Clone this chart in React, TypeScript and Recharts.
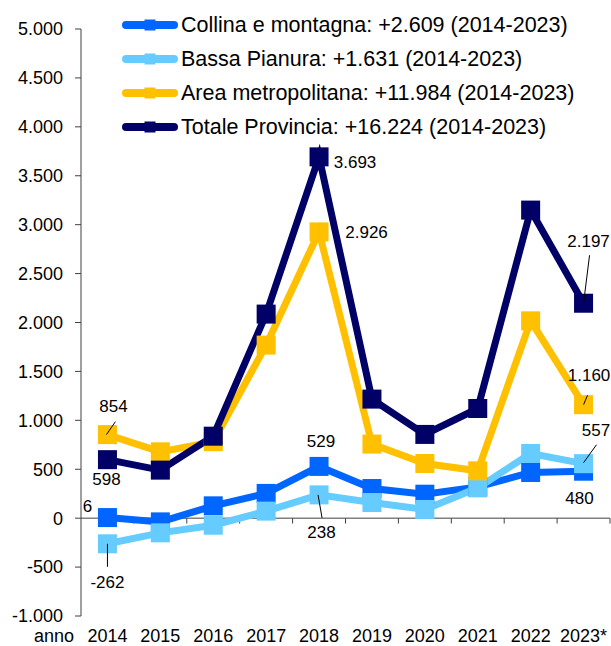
import React from 'react';
import { LineChart, Line, XAxis, YAxis, ReferenceLine, LabelList, Legend } from 'recharts';

const YEARS = ['2014', '2015', '2016', '2017', '2018', '2019', '2020', '2021', '2022', '2023*'];
const COLLINA = [6, -38, 126, 253, 529, 303, 245, 320, 467, 480];
const BASSA = [-262, -150, -72, 72, 238, 160, 89, 310, 661, 557];
const AREA = [854, 678, 782, 1769, 2926, 757, 559, 484, 2017, 1160];
const TOTALE = [598, 491, 838, 2086, 3693, 1217, 856, 1121, 3149, 2197];
const Y_TICKS = [-1000, -500, 0, 500, 1000, 1500, 2000, 2500, 3000, 3500, 4000, 4500, 5000];

const SERIES = [
  { key: 'collina', name: 'Collina e montagna', total: '+2.609 (2014-2023)', color: '#0066FF' },
  { key: 'bassa', name: 'Bassa Pianura', total: '+1.631 (2014-2023)', color: '#66CCFF' },
  { key: 'area', name: 'Area metropolitana', total: '+11.984 (2014-2023)', color: '#FFC000' },
  { key: 'totale', name: 'Totale Provincia', total: '+16.224 (2014-2023)', color: '#000066' },
];

const data = YEARS.map((year, i) => ({
  x: i,
  year,
  collina: COLLINA[i],
  bassa: BASSA[i],
  area: AREA[i],
  totale: TOTALE[i],
}));

const boundaries = YEARS.map((_, i) => i + 0.5);

// which points get a value label, offset from the marker centre, optional leader line
type LabelSpot = { dx: number; dy: number; leader?: [number, number, number, number] };
const LABEL_SPOTS: Record<string, Record<number, LabelSpot>> = {
  collina: { 0: { dx: -20, dy: -11 }, 4: { dx: 2, dy: -25 }, 9: { dx: -4, dy: 27 } },
  bassa: {
    0: { dx: 0, dy: 39, leader: [0, 0, 0, 23] },
    4: { dx: 2.5, dy: 38, leader: [-1, 0, 3, 23] },
    9: { dx: 12.5, dy: -33, leader: [0, -1, 13, -19] },
  },
  area: {
    0: { dx: 6, dy: -28, leader: [-1, 0, 8, -13] },
    4: { dx: 47.5, dy: 1 },
    9: { dx: 5.5, dy: -29.5, leader: [0, 0, 4, -9.5] },
  },
  totale: {
    0: { dx: -1, dy: 20 },
    4: { dx: 36, dy: 6 },
    9: { dx: 5, dy: -61.5, leader: [0, 0, 6, -48] },
  },
};

const fmt = (v: number) => {
  const s = String(Math.abs(v)).replace(/\B(?=(\d{3})+(?!\d))/g, '.');
  return v < 0 ? '-' + s : s;
};

const FONT = '"Liberation Sans", Arial, sans-serif';

const SquareDot = (color: string) => (props: any) => {
  const { cx, cy, index } = props;
  if (cx == null || cy == null) return <g key={index} />;
  return <rect key={index} x={cx - 9.5} y={cy - 9.5} width={19} height={19} fill={color} />;
};

const makeLabel = (key: string) => (props: any) => {
  const { x, y, value, index } = props;
  const spot = LABEL_SPOTS[key][index];
  if (!spot) return null;
  return (
    <g>
      {spot.leader && (
        <line
          x1={x + spot.leader[0]}
          y1={y + spot.leader[1]}
          x2={x + spot.leader[2]}
          y2={y + spot.leader[3]}
          stroke="#000"
          strokeWidth={1}
        />
      )}
      <text
        x={x + spot.dx}
        y={y + spot.dy}
        textAnchor="middle"
        dominantBaseline="central"
        fontSize={17}
        fontFamily={FONT}
        fill="#000"
      >
        {fmt(value)}
      </text>
    </g>
  );
};

const LegendBox = () => (
  <div style={{ fontFamily: FONT, fontSize: 21.5, color: '#000' }}>
    {SERIES.map((s) => (
      <div key={s.key} style={{ display: 'flex', alignItems: 'center', height: 34 }}>
        <svg width={56} height={34} style={{ display: 'block' }}>
          <line x1={4} y1={17} x2={52} y2={17} stroke={s.color} strokeWidth={8} strokeLinecap="round" />
          <rect x={22.5} y={11.5} width={11} height={11} fill={s.color} />
        </svg>
        <span style={{ marginLeft: 3, whiteSpace: 'nowrap', lineHeight: '34px' }}>
          {s.name}: {s.total}
        </span>
      </div>
    ))}
  </div>
);

// year labels sit at the bottom of the plot, not on the zero line
const XTick = (props: any) => {
  const { x, payload } = props;
  return (
    <text x={x} y={629} dy="0.71em" textAnchor="middle" fontSize={18} fontFamily={FONT} fill="#000">
      {YEARS[payload.value]}
    </text>
  );
};

export default function App() {
  return (
    <div style={{ position: 'absolute', left: 0, top: 0, background: '#fff' }}>
      <LineChart
        width={611}
        height={646}
        data={data}
        margin={{ top: 29, right: 1, bottom: 0, left: 0 }}
        style={{ fontFamily: FONT }}
      >
        <XAxis
          dataKey="x"
          type="number"
          domain={[-0.5, 9.5]}
          ticks={YEARS.map((_, i) => i)}
          height={30}
          axisLine={false}
          tickLine={false}
          tick={<XTick />}
          interval={0}
          label={{
            content: (p: any) => (
              <text
                x={p.viewBox.x - 7}
                y={629}
                dy="0.71em"
                textAnchor="end"
                fontSize={18}
                fontFamily={FONT}
                fill="#000"
              >
                anno
              </text>
            ),
          }}
        />
        <YAxis
          width={81}
          domain={[-1000, 5000]}
          ticks={Y_TICKS}
          interval={0}
          tickFormatter={fmt}
          tick={{ fontSize: 18, fill: '#000', fontFamily: FONT }}
          tickSize={6}
          tickMargin={12}
          axisLine={{ stroke: '#404040' }}
          tickLine={{ stroke: '#404040' }}
        />
        <ReferenceLine y={0} stroke="#404040" strokeWidth={1} />
        {boundaries.map((b) => (
          <ReferenceLine
            key={b}
            segment={[
              { x: b, y: 0 },
              { x: b, y: -55 },
            ]}
            stroke="#404040"
            strokeWidth={1}
          />
        ))}
        <Legend
          layout="vertical"
          align="center"
          verticalAlign="middle"
          content={<LegendBox />}
          wrapperStyle={{ top: 8, left: 122, width: 'auto' }}
        />
        {SERIES.map((s) => (
          <Line
            key={s.key}
            dataKey={s.key}
            name={s.name}
            stroke={s.color}
            strokeWidth={7}
            dot={SquareDot(s.color)}
            activeDot={false}
            isAnimationActive={false}
          >
            <LabelList dataKey={s.key} content={makeLabel(s.key)} />
          </Line>
        ))}
      </LineChart>
    </div>
  );
}
